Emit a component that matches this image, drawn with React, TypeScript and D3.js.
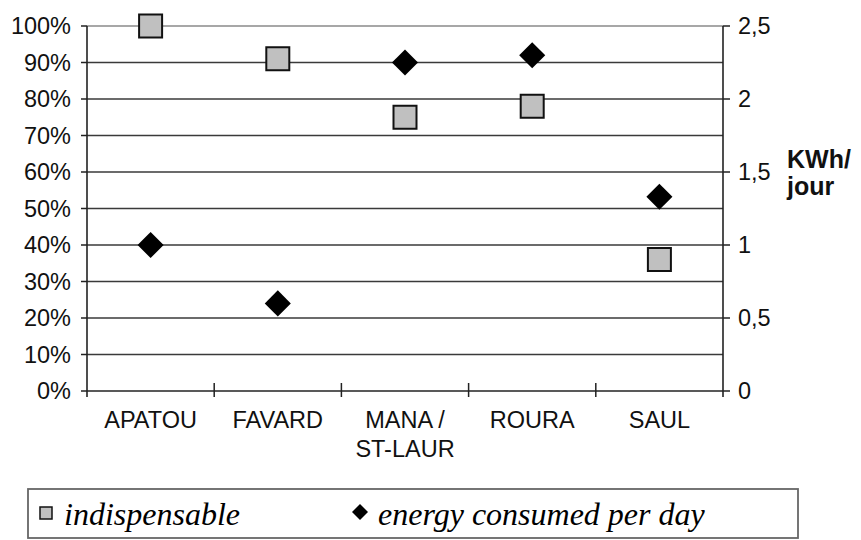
import * as d3 from 'd3';

const categories = ['APATOU', 'FAVARD', 'MANA /\nST-LAUR', 'ROURA', 'SAUL'];
const indispensable = [1.0, 0.91, 0.75, 0.78, 0.36];
const energyPerDay = [1.0, 0.6, 2.25, 2.3, 1.33];
const leftTicks = [0, 0.1, 0.2, 0.3, 0.4, 0.5, 0.6, 0.7, 0.8, 0.9, 1.0];
const rightTicks = [0, 0.5, 1, 1.5, 2, 2.5];
const legendLabels = ['indispensable', 'energy consumed per day'];

const W = 861;
const H = 540;
const margin = { left: 87, right: 138, top: 26, bottom: 149 };
const sans = "'Liberation Sans', Arial, sans-serif";
const serif = "'Liberation Serif', 'Times New Roman', serif";

export default function App() {
  const x = d3.scaleBand().domain(categories).range([margin.left, W - margin.right]);
  const yL = d3.scaleLinear().domain([0, 1]).range([H - margin.bottom, margin.top]);
  const yR = d3.scaleLinear().domain([0, 2.5]).range([H - margin.bottom, margin.top]);
  const x0 = margin.left;
  const x1 = W - margin.right;
  const yBase = yL(0);

  const square = d3.symbol(d3.symbolSquare, 529)();
  const diamond = d3.symbol(d3.symbolSquare, 340)();
  const legSquare = d3.symbol(d3.symbolSquare, 144)();
  const legDiamond = d3.symbol(d3.symbolSquare, 128)();
  const pct = d3.format('.0%');
  const comma = (v: number) => String(v).replace('.', ',');

  // category boundaries for the ticks
  const bounds = categories.map((c) => x(c)!).concat([x1]);

  return (
    <div style={{ position: 'fixed', left: 0, top: 0 }}>
      <svg width={W} height={H} style={{ display: 'block', background: '#fff' }}>
        {/* grid */}
        {leftTicks.filter((t) => t > 0).map((t) => (
          <line key={t} x1={x0} x2={x1} y1={yL(t)} y2={yL(t)}
            stroke={t === 1 ? '#8a8a8a' : '#3a3a3a'} strokeWidth={1.5} />
        ))}

        {/* axes */}
        <line x1={x0} x2={x0} y1={yL(1)} y2={yBase + 6} stroke="#222" strokeWidth={1.6} />
        <line x1={x1} x2={x1} y1={yL(1)} y2={yBase + 6} stroke="#222" strokeWidth={1.6} />
        <line x1={x0} x2={x1} y1={yBase} y2={yBase} stroke="#222" strokeWidth={1.6} />

        {leftTicks.map((t) => (
          <g key={'l' + t}>
            <line x1={x0 - 6} x2={x0} y1={yL(t)} y2={yL(t)} stroke="#222" strokeWidth={1.5} />
            <text x={71} y={yL(t)} dy="0.36em" textAnchor="end" fontFamily={sans} fontSize={23.5} fill="#111">
              {pct(t)}
            </text>
          </g>
        ))}

        {rightTicks.map((t) => (
          <g key={'r' + t}>
            <line x1={x1} x2={x1 + 7} y1={yR(t)} y2={yR(t)} stroke="#222" strokeWidth={1.5} />
            <text x={738} y={yR(t)} dy="0.36em" textAnchor="start" fontFamily={sans} fontSize={23.5} fill="#111">
              {comma(t)}
            </text>
          </g>
        ))}

        <text x={787} y={168} fontFamily={sans} fontSize={25} fontWeight="bold" fill="#111">KWh/</text>
        <text x={787} y={195} fontFamily={sans} fontSize={25} fontWeight="bold" fill="#111">jour</text>

        {bounds.slice(1, -1).map((b, i) => (
          <line key={'ct' + i} x1={b} x2={b} y1={yBase - 8} y2={yBase + 6} stroke="#222" strokeWidth={1.5} />
        ))}

        {categories.map((c) => {
          const cx = x(c)! + x.bandwidth() / 2;
          return c.split('\n').map((line, j) => (
            <text key={c + j} x={cx} y={428 + j * 29} textAnchor="middle" fontFamily={sans} fontSize={23.5} fill="#111">
              {line}
            </text>
          ));
        })}

        {/* indispensable squares */}
        {categories.map((c, i) => (
          <path key={'s' + c} d={square!}
            transform={`translate(${x(c)! + x.bandwidth() / 2},${yL(indispensable[i])})`}
            fill="#c0c0c0" stroke="#111" strokeWidth={2} />
        ))}

        {/* energy diamonds */}
        {categories.map((c, i) => (
          <path key={'d' + c} d={diamond!}
            transform={`translate(${x(c)! + x.bandwidth() / 2},${yR(energyPerDay[i])}) rotate(45)`}
            fill="#000" />
        ))}

        {/* legend */}
        <rect x={28} y={489} width={770} height={49} fill="#fff" stroke="#666" strokeWidth={1.8} />
        <path d={legSquare!} transform="translate(46,513)" fill="#c0c0c0" stroke="#111" strokeWidth={1.5} />
        <text x={64} y={525} fontFamily={serif} fontStyle="italic" fontSize={32} fill="#000">{legendLabels[0]}</text>
        <path d={legDiamond!} transform="translate(360,512) rotate(45)" fill="#000" />
        <text x={378} y={525} fontFamily={serif} fontStyle="italic" fontSize={32} fill="#000">{legendLabels[1]}</text>
      </svg>
    </div>
  );
}
